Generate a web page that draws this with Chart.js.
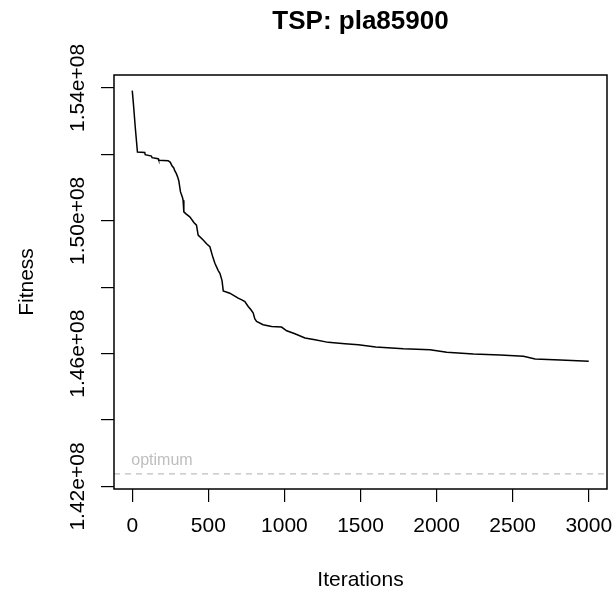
<!DOCTYPE html>
<html>
<head>
<meta charset="utf-8">
<script src="https://cdn.jsdelivr.net/npm/chart.js@4.4.1/dist/chart.umd.min.js"></script>
<style>
  body { margin: 0; background: #fff; }
  canvas { display: block; }
</style>
</head>
<body>
<canvas id="fitChart" width="613" height="592"></canvas>
<script>
// dữ liệu
const iterations = [0, 8, 20, 34, 82, 85, 126, 130, 170, 174, 236, 250, 262, 272, 280, 290, 300, 306,
  317, 330, 334, 339, 355, 378, 405, 422, 433, 466, 490, 510, 530, 543, 565, 576, 590, 598,
  641, 696, 720, 740, 762, 780, 795, 805, 817, 860, 916, 981, 1015, 1069, 1135, 1201, 1288,
  1398, 1486, 1600, 1782, 1957, 2067, 2242, 2418, 2571, 2648, 2813, 3000];
const fitness = [153920000, 153500000, 152800000, 152070000, 152060000, 151990000, 151950000,
  151900000, 151870000, 151820000, 151810000, 151760000, 151650000, 151600000, 151500000,
  151420000, 151300000, 151200000, 150870000, 150700000, 150620000, 150270000, 150200000,
  150120000, 149950000, 149870000, 149570000, 149420000, 149300000, 149220000, 148900000,
  148720000, 148500000, 148420000, 148200000, 147890000, 147820000, 147670000, 147620000,
  147570000, 147420000, 147320000, 147220000, 147050000, 146970000, 146870000, 146820000,
  146800000, 146690000, 146600000, 146470000, 146420000, 146340000, 146300000, 146270000,
  146200000, 146150000, 146120000, 146040000, 145990000, 145960000, 145920000, 145840000,
  145810000, 145770000];
const optimum = 142382641;
const xTicks = [0, 500, 1000, 1500, 2000, 2500, 3000];
const yTicks = [142e6, 144e6, 146e6, 148e6, 150e6, 152e6, 154e6];
const yLabeled = [142e6, 146e6, 150e6, 154e6];
const xRange = [-120, 3120];
const yRange = [141925000, 154390000];

const FONT = '"Liberation Sans", Arial, Helvetica, sans-serif';

// vẽ chữ, khung theo kiểu R
const rText = {
  id: 'rText',
  afterDraw(chart) {
    const { ctx, chartArea: a, scales } = chart;
    ctx.save();
    ctx.strokeStyle = '#000';
    ctx.lineWidth = 1.5;
    ctx.strokeRect(a.left, a.top, a.right - a.left, a.bottom - a.top);

    ctx.fillStyle = '#000';
    ctx.textAlign = 'center';
    ctx.textBaseline = 'alphabetic';
    ctx.font = 'bold 26px ' + FONT;
    ctx.fillText('TSP: pla85900', (a.left + a.right) / 2, 29);

    ctx.font = '21px ' + FONT;
    scales.x.ticks.forEach(t => {
      ctx.fillText(String(t.value), scales.x.getPixelForValue(t.value), 532);
    });
    ctx.fillText('Iterations', (a.left + a.right) / 2, 586);

    yLabeled.forEach(v => {
      const py = scales.y.getPixelForValue(v);
      ctx.save();
      ctx.translate(84, py);
      ctx.rotate(-Math.PI / 2);
      ctx.fillText((v / 1e8).toFixed(2) + 'e+08', 0, 0);
      ctx.restore();
    });

    ctx.save();
    ctx.translate(33, (a.top + a.bottom) / 2);
    ctx.rotate(-Math.PI / 2);
    ctx.fillText('Fitness', 0, 0);
    ctx.restore();

    ctx.fillStyle = '#bebebe';
    ctx.textAlign = 'left';
    ctx.font = '16px ' + FONT;
    ctx.fillText('optimum', scales.x.getPixelForValue(0) - 1, 465);
    ctx.restore();
  }
};

const points = iterations.map((it, i) => ({ x: it, y: fitness[i] }));

new Chart(document.getElementById('fitChart'), {
  type: 'line',
  data: {
    datasets: [
      {
        data: points,
        borderColor: '#000',
        borderWidth: 1.5,
        pointRadius: 0,
        tension: 0
      },
      {
        data: [{ x: xRange[0], y: optimum }, { x: xRange[1], y: optimum }],
        borderColor: '#bebebe',
        borderWidth: 1.3,
        borderDash: [6, 5],
        pointRadius: 0
      }
    ]
  },
  options: {
    responsive: false,
    animation: false,
    layout: { padding: { top: 75, right: 6, left: 0, bottom: 0 } },
    plugins: { legend: { display: false }, title: { display: false }, tooltip: { enabled: false } },
    scales: {
      x: {
        type: 'linear',
        min: xRange[0],
        max: xRange[1],
        afterBuildTicks: s => { s.ticks = xTicks.map(v => ({ value: v })); },
        afterFit: s => { s.height = 103; },
        ticks: { display: false },
        border: { display: false },
        grid: { drawOnChartArea: false, drawTicks: true, tickLength: 13, color: '#000', lineWidth: 1.2 }
      },
      y: {
        type: 'linear',
        min: yRange[0],
        max: yRange[1],
        afterBuildTicks: s => { s.ticks = yTicks.map(v => ({ value: v })); },
        afterFit: s => { s.width = 114; },
        ticks: { display: false },
        border: { display: false },
        grid: { drawOnChartArea: false, drawTicks: true, tickLength: 13, color: '#000', lineWidth: 1.2 }
      }
    }
  },
  plugins: [rText]
});
</script>
</body>
</html>
